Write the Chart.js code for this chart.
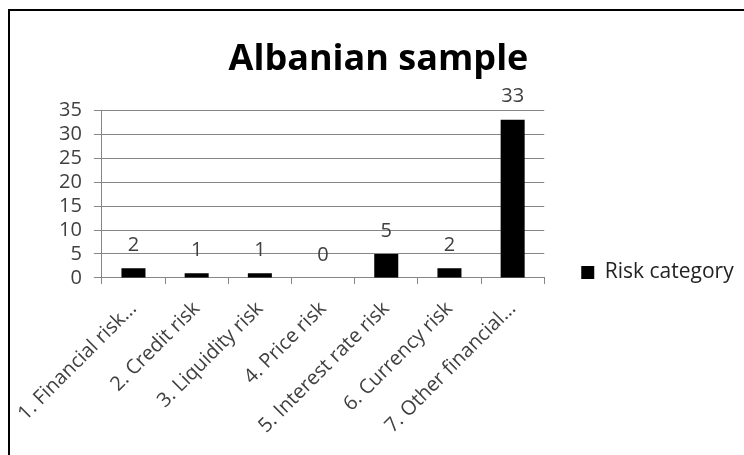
<!DOCTYPE html>
<html>
<head>
<meta charset="utf-8">
<script src="https://cdn.jsdelivr.net/npm/chart.js@4"></script>
<style>
  body{ margin:0; background:#fff; }
  #frame{ position:absolute; left:8px; top:9px; width:740px; height:450px; border-left:2px solid #000; border-top:2px solid #000; }
  #c{ position:absolute; left:0; top:0; }
</style>
</head>
<body>
<div id="frame"></div>
<canvas id="c" width="744" height="455"></canvas>
<script>
// datos del gráfico
const categorias = ['1. Financial risk...', '2. Credit risk', '3. Liquidity risk', '4. Price risk',
                    '5. Interest rate risk', '6. Currency risk', '7. Other financial...'];
const valores = [2, 1, 1, 0, 5, 2, 33];
const serie = 'Risk category';
const titulo = 'Albanian sample';

const FONT = 'Open Sans';
const gris = '#868686';
const texto = '#404040';

// etiquetas encima de cada barra
const etiquetas = {
  id:'etiquetas',
  afterDatasetsDraw(chart){
    const {ctx} = chart;
    const meta = chart.getDatasetMeta(0);
    ctx.save();
    ctx.font = `20px "${FONT}"`;
    ctx.fillStyle = texto;
    ctx.textAlign = 'center';
    ctx.textBaseline = 'middle';
    meta.data.forEach((bar,i)=>{
      ctx.fillText(String(valores[i]), bar.x, bar.y - 23);
    });
    ctx.restore();
  }
};

// coloca la leyenda: un hueco tras el área y abajo, a la altura del eje
const moverLeyenda = {
  id:'moverLeyenda',
  afterLayout(chart){
    const l = chart.legend; if(!l) return;
    const h = l.bottom - l.top;
    l.left = chart.chartArea.right + 19; l.right = chart.width;
    l.width = l.right - l.left;
    l.bottom = chart.chartArea.bottom + 23; l.top = l.bottom - h;
  }
};

new Chart(document.getElementById('c').getContext('2d'), {
  type:'bar',
  data:{
    labels: categorias,
    datasets:[{ label: serie, data: valores, backgroundColor:'#000', borderWidth:0,
                categoryPercentage:1, barPercentage:0.38 }]
  },
  plugins:[etiquetas, moverLeyenda],
  options:{
    responsive:false,
    animation:false,
    layout:{ padding:{ left:47, right:34, top:0, bottom:4 } },
    plugins:{
      title:{ display:true, text: titulo, color:'#000',
              font:{ family: FONT, size:36, weight:'bold', lineHeight:1.2 },
              padding:{ top:38, bottom:29 } },
      legend:{ position:'right', align:'end',
               labels:{ boxWidth:13, boxHeight:13, padding:18, color:'#222',
                        font:{ family: FONT, size:21 } } },
      tooltip:{ enabled:false }
    },
    scales:{
      x:{
        grid:{ display:true, drawOnChartArea:false, color:gris, tickLength:6, offset:true },
        border:{ color:gris },
        ticks:{ color:texto, font:{ family: FONT, size:20 }, minRotation:45, maxRotation:45, padding:13, autoSkip:false }
      },
      y:{
        min:0, max:35,
        grid:{ color:gris, tickLength:8 },
        border:{ color:gris },
        ticks:{ stepSize:5, color:texto, font:{ family: FONT, size:20, lineHeight:1 }, padding:12, autoSkip:false }
      }
    }
  }
});
</script>
</body>
</html>
